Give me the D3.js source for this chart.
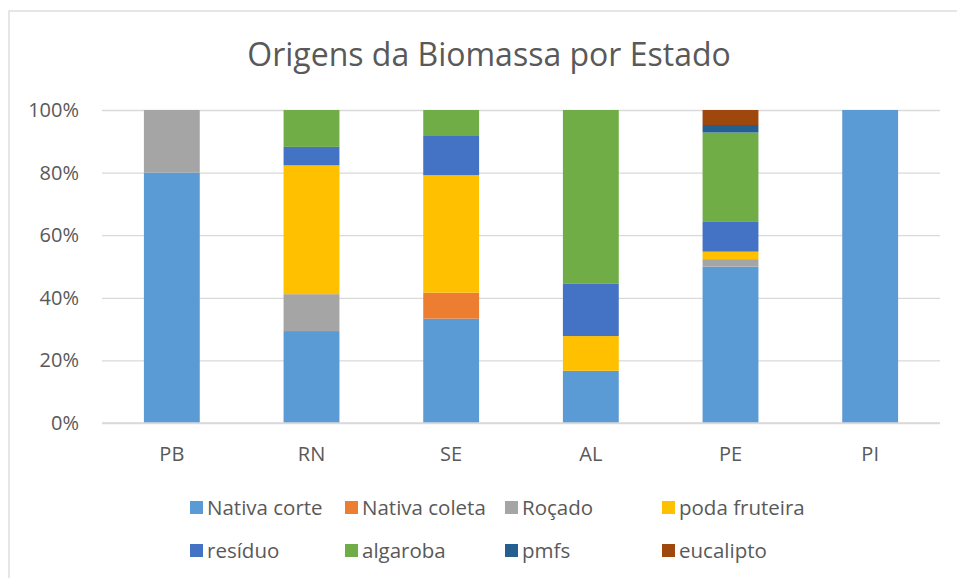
<!DOCTYPE html>
<html>
<head>
<meta charset="utf-8">
<script src="https://cdn.jsdelivr.net/npm/d3@7"></script>
<style>
  body { margin: 0; background: #fff; }
  text { font-family: "Open Sans", sans-serif; fill: #595959; }
</style>
</head>
<body>
<div id="chart-area"></div>
<script>
const categories = ['PB', 'RN', 'SE', 'AL', 'PE', 'PI']
const seriesNames = ['Nativa corte', 'Nativa coleta', 'Roçado', 'poda fruteira', 'resíduo', 'algaroba', 'pmfs', 'eucalipto']
const nativaCorte = [80, 29.4, 33.3, 16.7, 50, 100]
const nativaColeta = [0, 0, 8.3, 0, 0, 0]
const rocado = [20, 11.8, 0, 0, 2.4, 0]
const podaFruteira = [0, 41.2, 37.5, 11.1, 2.4, 0]
const residuo = [0, 5.9, 12.5, 16.7, 9.5, 0]
const algaroba = [0, 11.8, 8.3, 55.6, 28.6, 0]
const pmfs = [0, 0, 0, 0, 2.4, 0]
const eucalipto = [0, 0, 0, 0, 4.8, 0]
const yTicks = [0, 0.2, 0.4, 0.6, 0.8, 1]
const colors = ['#5B9BD5', '#ED7D31', '#A5A5A5', '#FFC000', '#4472C4', '#70AD47', '#255E91', '#9E480E']

const allSeries = [nativaCorte, nativaColeta, rocado, podaFruteira, residuo, algaroba, pmfs, eucalipto]
const rows = categories.map((c, i) => {
  const r = { state: c }
  seriesNames.forEach((s, j) => { r[s] = allSeries[j][i] })
  return r
})

const W = 957, H = 578
const MARGIN = { LEFT: 102, RIGHT: 17, TOP: 110, BOTTOM: 155 }
const WIDTH = W - MARGIN.LEFT - MARGIN.RIGHT
const HEIGHT = H - MARGIN.TOP - MARGIN.BOTTOM

const svg = d3.select('#chart-area').append('svg')
  .attr('width', W)
  .attr('height', H)

// chart border (runs off the right and bottom edges)
svg.append('rect')
  .attr('x', 9).attr('y', 11)
  .attr('width', W + 10).attr('height', H + 10)
  .attr('fill', 'none')
  .attr('stroke', '#d9d9d9')
  .attr('stroke-width', 1.3)

svg.append('text')
  .attr('x', 489).attr('y', 66)
  .attr('text-anchor', 'middle')
  .attr('font-size', '32px')
  .text('Origens da Biomassa por Estado')

const g = svg.append('g')
  .attr('transform', `translate(${MARGIN.LEFT}, ${MARGIN.TOP})`)

const x = d3.scaleBand()
  .domain(categories)
  .range([0, WIDTH])
  .paddingInner(0.6)
  .paddingOuter(0.3)

const y = d3.scaleLinear()
  .domain([0, 1])
  .range([HEIGHT, 0])

// gridlines + y labels
const yAxisCall = d3.axisLeft(y)
  .tickValues(yTicks)
  .tickSize(-WIDTH)
  .tickPadding(23)
  .tickFormat(d3.format('.0%'))
const yAxis = g.append('g').attr('class', 'y-axis').call(yAxisCall)
yAxis.select('.domain').remove()
yAxis.selectAll('line').attr('stroke', '#d9d9d9').attr('stroke-width', 1.3)
yAxis.selectAll('text').attr('font-size', '20px').attr('fill', '#595959')
  .style('font-family', '"Open Sans", sans-serif')

const xAxisCall = d3.axisBottom(x).tickSize(0).tickPadding(24)
const xAxis = g.append('g').attr('class', 'x-axis')
  .attr('transform', `translate(0, ${HEIGHT})`)
  .call(xAxisCall)
xAxis.select('.domain').remove()
xAxis.selectAll('text').attr('font-size', '20px').attr('fill', '#595959')
  .style('font-family', '"Open Sans", sans-serif')

const stacked = d3.stack().keys(seriesNames).offset(d3.stackOffsetExpand)(rows)

g.selectAll('g.layer').data(stacked).enter()
  .append('g')
  .attr('class', 'layer')
  .attr('fill', (d, i) => colors[i])
  .selectAll('rect')
  .data(d => d)
  .enter()
  .append('rect')
  .attr('x', d => x(d.data.state))
  .attr('y', d => y(d[1]))
  .attr('width', x.bandwidth())
  .attr('height', d => y(d[0]) - y(d[1]))

// baseline drawn over the bars
g.append('line')
  .attr('x1', 0).attr('x2', WIDTH)
  .attr('y1', HEIGHT).attr('y2', HEIGHT)
  .attr('stroke', '#d9d9d9').attr('stroke-width', 1.3)

// legend
const legendX = [190, 345, 505, 662]
const legendY = [508, 551]
const legend = svg.append('g').attr('class', 'legend')
seriesNames.forEach((s, i) => {
  const lx = legendX[i % 4]
  const ly = legendY[Math.floor(i / 4)]
  legend.append('rect')
    .attr('x', lx).attr('y', ly - 7)
    .attr('width', 13).attr('height', 13)
    .attr('fill', colors[i])
  legend.append('text')
    .attr('x', lx + 17).attr('y', ly + 7)
    .attr('font-size', '20.5px')
    .text(s)
})
</script>
</body>
</html>
